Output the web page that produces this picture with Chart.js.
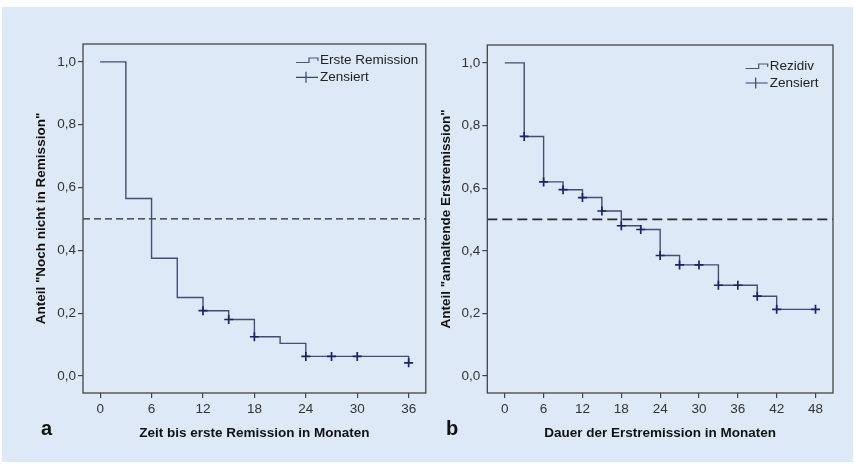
<!DOCTYPE html>
<html><head><meta charset="utf-8">
<script src="https://cdn.jsdelivr.net/npm/chart.js@4.4.1/dist/chart.umd.min.js"></script>
<style>
html,body{margin:0;padding:0;background:#fff;}
#wrap{position:relative;width:855px;height:465px;overflow:hidden;background:#fff;}
#bg{position:absolute;left:2px;top:7px;width:851px;height:455px;background:#dde9f6;}
.box{position:absolute;top:0;height:465px;}
.lbl{position:absolute;font:bold 20px "Liberation Sans",Arial,sans-serif;color:#111;line-height:20px;}
</style></head><body>
<div id="wrap"><div id="bg"></div>
<div class="box" style="left:0;width:432px"><canvas id="cA"></canvas></div>
<div class="box" style="left:430px;width:425px"><canvas id="cB"></canvas></div>
<div class="lbl" style="left:41px;top:418px">a</div>
<div class="lbl" style="left:446px;top:418px">b</div>
</div>
<script>
// ---- Panel a: Zeit bis erste Remission ----
const timesA = [0, 3, 6, 9, 12, 15, 18, 21, 24, 36];
const survA  = [1.0, 0.565, 0.375, 0.25, 0.208, 0.18, 0.125, 0.104, 0.0625, 0.042];
const censTimesA = [12, 15, 18, 24, 27, 30, 36];
const censSurvA  = [0.208, 0.18, 0.125, 0.0625, 0.0625, 0.0625, 0.042];
const xTicksA = [0, 6, 12, 18, 24, 30, 36];

// ---- Panel b: Dauer der Erstremission ----
const timesB = [0, 3, 6, 9, 12, 15, 18, 21, 24, 27, 33, 39, 42, 48];
const survB  = [1.0, 0.765, 0.62, 0.595, 0.57, 0.527, 0.48, 0.468, 0.385, 0.355, 0.29, 0.255, 0.213, 0.213];
const censTimesB = [3, 6, 9, 12, 15, 18, 21, 24, 27, 30, 33, 36, 39, 42, 48];
const censSurvB  = [0.765, 0.62, 0.595, 0.57, 0.527, 0.48, 0.468, 0.385, 0.355, 0.355, 0.29, 0.29, 0.255, 0.213, 0.213];
const xTicksB = [0, 6, 12, 18, 24, 30, 36, 42, 48];

const yTicks = [0, 0.2, 0.4, 0.6, 0.8, 1.0];
const medianLine = 0.5;

const legendA = ['Erste Remission', 'Zensiert'];
const legendB = ['Rezidiv', 'Zensiert'];
const xTitleA = 'Zeit bis erste Remission in Monaten';
const xTitleB = 'Dauer der Erstremission in Monaten';
const yTitleA = 'Anteil "Noch nicht in Remission"';
const yTitleB = 'Anteil "anhaltende Erstremission"';

const FONT = '"Liberation Sans", Arial, sans-serif';

const framePlugin = {
  id: 'kmFrame',
  afterDatasetsDraw(chart, args, opts) {
    const {ctx, chartArea: a} = chart;
    ctx.save();
    ctx.strokeStyle = '#454545';
    ctx.lineWidth = 1.3;
    ctx.strokeRect(a.left, a.top, a.right - a.left, a.bottom - a.top);
    const L = opts.legend;
    if (L) {
      ctx.font = '13.5px ' + FONT;
      ctx.fillStyle = '#222';
      ctx.textBaseline = 'middle';
      ctx.textAlign = 'left';
      const x0 = L.x, x1 = L.x + 22;
      ctx.strokeStyle = '#4a5775';
      ctx.lineWidth = 1.2;
      ctx.beginPath();
      ctx.moveTo(x0, L.y1 + 2.5);
      ctx.lineTo(x0 + 13, L.y1 + 2.5);
      ctx.lineTo(x0 + 13, L.y1 - 2);
      ctx.lineTo(x1, L.y1 - 2);
      ctx.lineTo(x1, L.y1 + 1);
      ctx.stroke();
      ctx.fillText(L.labels[0], x1 + 2, L.y1);
      ctx.strokeStyle = '#33418a';
      ctx.beginPath();
      ctx.moveTo(x0, L.y2); ctx.lineTo(x1, L.y2);
      ctx.moveTo(x0 + 10, L.y2 - 5.5); ctx.lineTo(x0 + 10, L.y2 + 5.5);
      ctx.stroke();
      ctx.fillText(L.labels[1], x1 + 2, L.y2);
    }
    ctx.restore();
  }
};

function makeChart(id, c) {
  const tickFont = {family: FONT, size: 13.5};
  const titleFont = {family: FONT, size: 13.5, weight: 'bold'};
  return new Chart(document.getElementById(id), {
    type: 'line',
    data: {
      datasets: [
        {data: c.censT.map((t, i) => ({x: t, y: c.censS[i]})), showLine: false,
         pointStyle: 'cross', pointRadius: 4.5, pointHoverRadius: 4.5,
         pointBorderColor: '#1a2466', pointBorderWidth: 1.7, borderColor: '#1a2466'},
        {data: c.times.map((t, i) => ({x: t, y: c.surv[i]})), stepped: true,
         borderColor: '#424f72', borderWidth: 1.4, pointRadius: 0, fill: false},
        {data: [{x: c.xmin, y: medianLine}, {x: c.xmax, y: medianLine}],
         borderColor: '#2a2a2a', borderDash: c.dash, borderWidth: c.dashW, pointRadius: 0, fill: false}
      ]
    },
    options: {
      responsive: true, maintainAspectRatio: false, animation: false, events: [],
      layout: {padding: c.pad},
      plugins: {legend: {display: false}, tooltip: {enabled: false}, kmFrame: {legend: c.legend}},
      scales: {
        x: {
          type: 'linear', min: c.xmin, max: c.xmax,
          afterBuildTicks: s => { s.ticks = c.xTicks.map(v => ({value: v})); },
          afterFit: s => { s.height = 50; },
          grid: {drawOnChartArea: false, drawTicks: true, tickLength: 5, color: '#454545', lineWidth: 1.2},
          border: {display: false},
          ticks: {font: tickFont, color: '#333', padding: 3, maxRotation: 0, autoSkip: false,
                  callback: v => String(v)},
          title: {display: true, text: c.xTitle, font: titleFont, color: '#111', padding: {top: 0, bottom: 2}}
        },
        y: {
          type: 'linear', min: c.ymin, max: c.ymax,
          afterBuildTicks: s => { s.ticks = yTicks.map(v => ({value: v})); },
          afterFit: s => { s.width = c.yw; },
          grid: {drawOnChartArea: false, drawTicks: true, tickLength: 5, color: '#454545', lineWidth: 1.2},
          border: {display: false},
          ticks: {font: tickFont, color: '#333', padding: 2, autoSkip: false,
                  callback: v => Number(v).toFixed(1).replace('.', ',')},
          title: {display: true, text: c.yTitle, font: titleFont, color: '#111', padding: {top: c.ytp, bottom: 0}}
        }
      }
    },
    plugins: [framePlugin]
  });
}

makeChart('cA', {
  times: timesA, surv: survA, censT: censTimesA, censS: censSurvA, xTicks: xTicksA,
  xmin: -2, xmax: 38, ymin: -0.054, ymax: 1.057,
  pad: {left: 0, right: 2, top: 44, bottom: 22}, yw: 83, ytp: 33.4,
  dash: [7, 4], dashW: 1.3,
  xTitle: xTitleA, yTitle: yTitleA,
  legend: {x: 296, y1: 60, y2: 77.3, labels: legendA}
});

makeChart('cB', {
  times: timesB, surv: survB, censT: censTimesB, censS: censSurvB, xTicks: xTicksB,
  xmin: -2.7, xmax: 50.7, ymin: -0.054, ymax: 1.057,
  pad: {left: 0, right: 22, top: 45, bottom: 22}, yw: 57.3, ytp: 8.4,
  dash: [10, 5], dashW: 1.8,
  xTitle: xTitleB, yTitle: yTitleB,
  legend: {x: 315.7, y1: 66, y2: 83, labels: legendB}
});
</script>
</body></html>
